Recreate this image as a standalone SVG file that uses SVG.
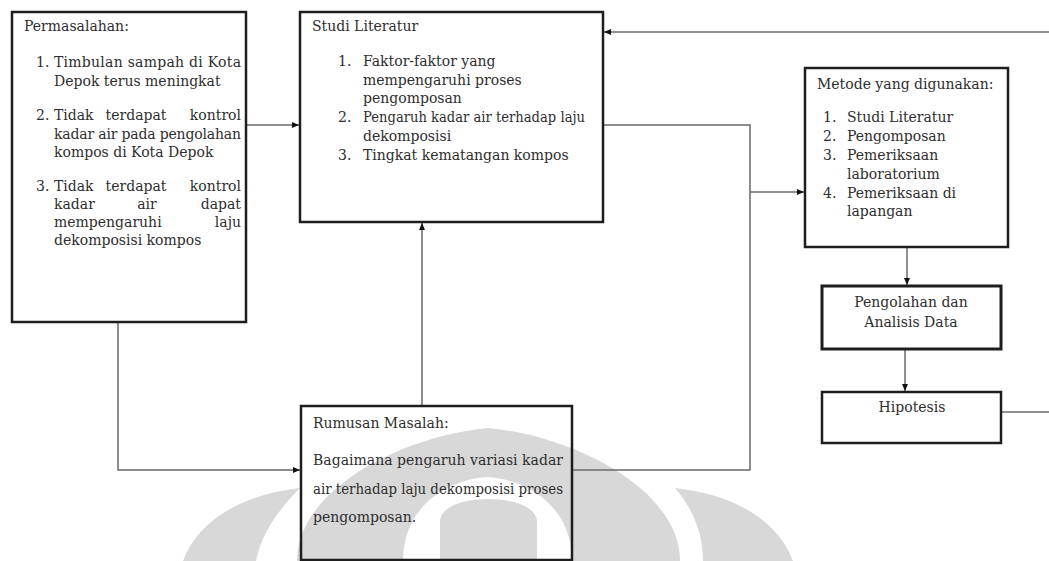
<svg xmlns="http://www.w3.org/2000/svg" width="1049" height="561" viewBox="0 0 1049 561">
  <defs>
    <marker id="arr" markerWidth="7" markerHeight="6" refX="7" refY="3" orient="auto" markerUnits="userSpaceOnUse">
      <path d="M0,0 L7,3 L0,6 Z" fill="#111"/>
    </marker>
    <style>
      .box { fill: none; stroke: #1e1e1e; stroke-width: 2.5; }
      .con { fill: none; stroke: #6a6a6a; stroke-width: 1.5; }
      .wm { fill: #d8d8d8; stroke: none; }
      text { font-family: "DejaVu Serif", "Liberation Serif", serif; font-size: 14px; fill: #2e2e2e; }
      .c { text-anchor: middle; }
      .e { text-anchor: end; }
      .m { text-anchor: middle; }
    </style>
  </defs>
  <rect x="0" y="0" width="1049" height="561" fill="#ffffff"/>

  <g id="watermark">
    <path class="wm" d="M297,561 C297,490 401,436 488,428 C575,436 680,490 680,561 Z"/>
    <path d="M403,561 C403,508 445,480 487,477 C530,480 572,508 572,561 Z" fill="#ffffff"/>
    <path class="wm" d="M440,561 L440,522 C440,508 460,499 488,499 C516,499 537,508 537,522 L537,561 Z"/>
    <path class="wm" d="M675,488 C690,505 703,530 703,561 L793,561 C780,525 740,495 675,488 Z"/>
    <path class="wm" d="M300,488 C283,505 262,530 256,561 L183,561 C196,525 236,495 300,488 Z"/>
  </g>

  <g id="connectors">
    <line class="con" x1="246" y1="125" x2="299" y2="125" marker-end="url(#arr)"/>
    <line class="con" x1="1049" y1="32" x2="604" y2="32" marker-end="url(#arr)"/>
    <polyline class="con" points="603,125 750,125 750,470 572,470"/>
    <line class="con" x1="750" y1="192" x2="804" y2="192" marker-end="url(#arr)"/>
    <polyline class="con" points="118,322 118,470 300,470" marker-end="url(#arr)"/>
    <line class="con" x1="422" y1="406" x2="422" y2="223" marker-end="url(#arr)"/>
    <line class="con" x1="907" y1="247" x2="907" y2="285" marker-end="url(#arr)"/>
    <line class="con" x1="905" y1="349" x2="905" y2="391" marker-end="url(#arr)"/>
    <line class="con" x1="1001" y1="412" x2="1049" y2="412"/>
  </g>

  <g id="permasalahan">
    <rect class="box" x="12" y="12" width="234" height="310"/>
    <text x="24" y="31">Permasalahan:</text>
    <text x="36" y="67">1.</text>
    <text x="54" y="67" textLength="187" lengthAdjust="spacing">Timbulan sampah di Kota</text>
    <text x="54" y="86">Depok terus meningkat</text>
    <text x="36" y="120">2.</text>
    <text x="54" y="120">Tidak</text>
    <text x="136" y="120" class="m">terdapat</text>
    <text x="241" y="120" class="e">kontrol</text>
    <text x="54" y="139" textLength="187" lengthAdjust="spacing">kadar air pada pengolahan</text>
    <text x="54" y="157">kompos di Kota Depok</text>
    <text x="36" y="191">3.</text>
    <text x="54" y="191">Tidak</text>
    <text x="136" y="191" class="m">terdapat</text>
    <text x="241" y="191" class="e">kontrol</text>
    <text x="54" y="209">kadar</text>
    <text x="147" y="209" class="m">air</text>
    <text x="241" y="209" class="e">dapat</text>
    <text x="54" y="227">mempengaruhi</text>
    <text x="241" y="227" class="e">laju</text>
    <text x="54" y="245">dekomposisi kompos</text>
  </g>

  <g id="studi-literatur">
    <rect class="box" x="300" y="12" width="303" height="210"/>
    <text x="312" y="31">Studi Literatur</text>
    <text x="338" y="66">1.</text>
    <text x="363" y="66">Faktor-faktor yang</text>
    <text x="363" y="85">mempengaruhi proses</text>
    <text x="363" y="103">pengomposan</text>
    <text x="338" y="122">2.</text>
    <text x="363" y="122" textLength="222" lengthAdjust="spacingAndGlyphs">Pengaruh kadar air terhadap laju</text>
    <text x="363" y="141">dekomposisi</text>
    <text x="338" y="160">3.</text>
    <text x="363" y="160">Tingkat kematangan kompos</text>
  </g>

  <g id="metode">
    <rect class="box" x="805" y="68" width="203" height="179"/>
    <text x="817" y="89">Metode yang digunakan:</text>
    <text x="823" y="122">1.</text>
    <text x="847" y="122">Studi Literatur</text>
    <text x="823" y="141">2.</text>
    <text x="847" y="141">Pengomposan</text>
    <text x="823" y="160">3.</text>
    <text x="847" y="160">Pemeriksaan</text>
    <text x="847" y="179">laboratorium</text>
    <text x="823" y="198">4.</text>
    <text x="847" y="198">Pemeriksaan di</text>
    <text x="847" y="216">lapangan</text>
  </g>

  <g id="pengolahan">
    <rect class="box" x="822" y="286" width="179" height="63" style="stroke-width:3"/>
    <text x="911" y="307" class="c">Pengolahan dan</text>
    <text x="911" y="327" class="c">Analisis Data</text>
  </g>

  <g id="hipotesis">
    <rect class="box" x="822" y="392" width="179" height="51"/>
    <text x="912" y="412" class="c">Hipotesis</text>
  </g>

  <g id="rumusan">
    <rect class="box" x="301" y="406" width="271" height="154"/>
    <text x="313" y="428">Rumusan Masalah:</text>
    <text x="313" y="465" textLength="250" lengthAdjust="spacing">Bagaimana pengaruh variasi kadar</text>
    <text x="313" y="494" textLength="250" lengthAdjust="spacingAndGlyphs">air terhadap laju dekomposisi proses</text>
    <text x="313" y="522">pengomposan.</text>
  </g>
</svg>
